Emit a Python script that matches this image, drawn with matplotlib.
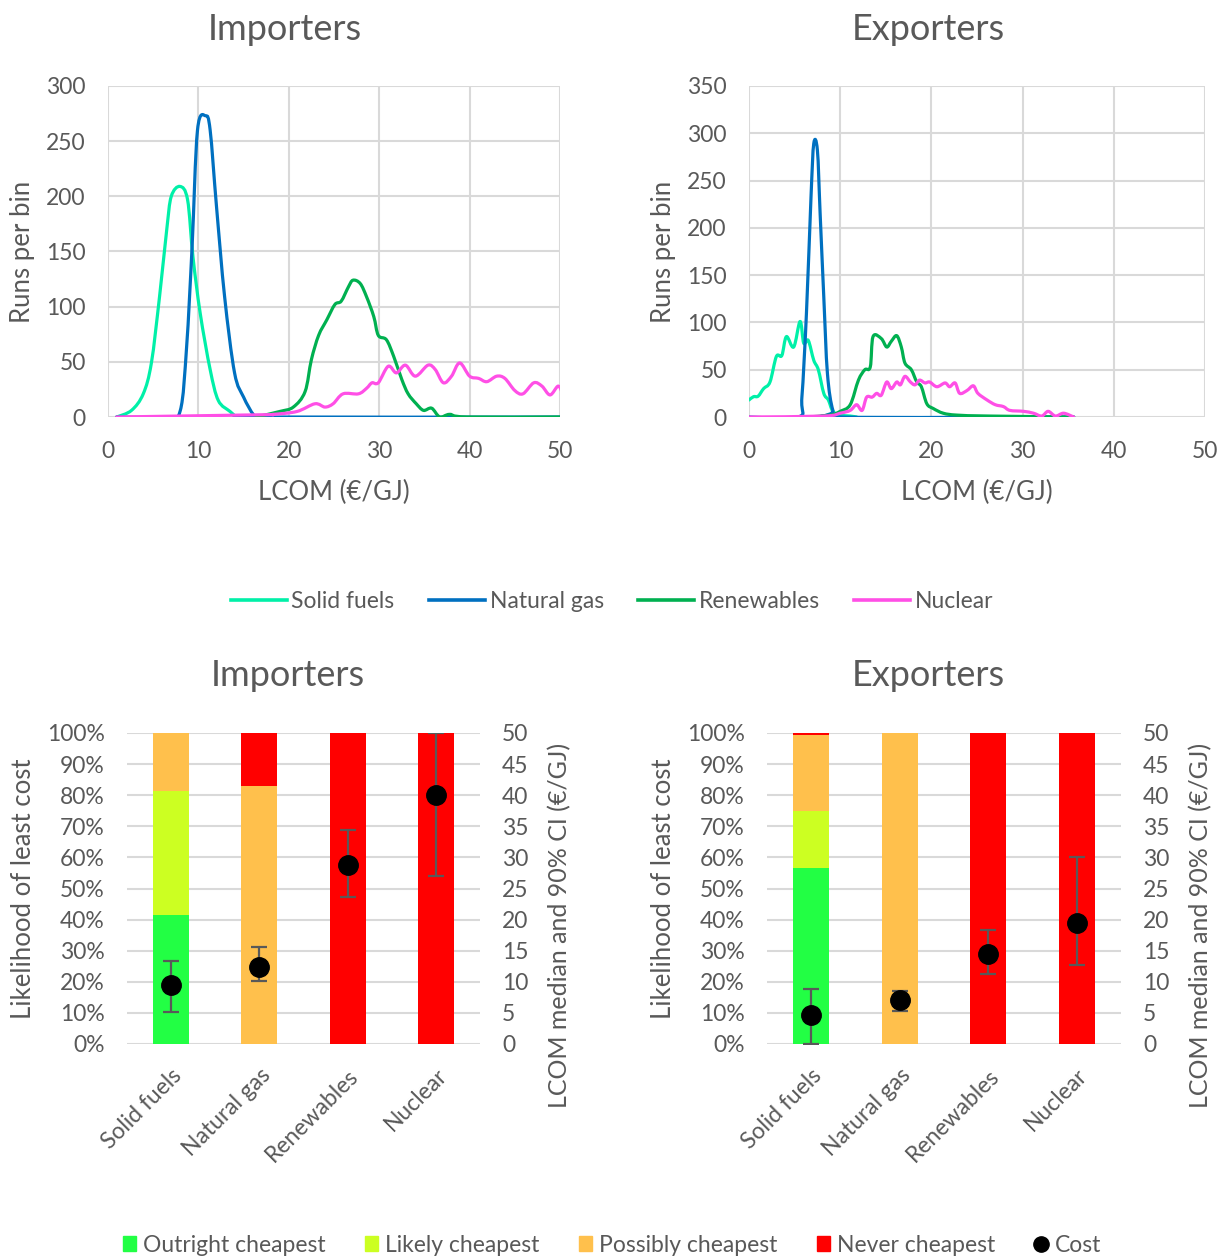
import numpy as np
import matplotlib
matplotlib.use("Agg")
import matplotlib.pyplot as plt
from matplotlib.lines import Line2D
from matplotlib.patches import Patch, PathPatch
from matplotlib.path import Path

plt.rcParams['font.family'] = ['Lato', 'DejaVu Sans']
GREY = '#595959'
GRID = '#D9D9D9'

# --- LCOM distributions (x in €/GJ, y in runs per bin) ---
imp_solid_x = [0.96, 2.6, 3.9, 4.8, 5.7, 6.5, 7.0, 7.96, 8.8, 9.4, 10.2, 11.3, 12.2, 13.5, 14.2]
imp_solid_y = [0, 6, 21, 49, 109, 170, 200, 209, 197, 145, 94, 43, 15, 5, 0]
imp_gas_x = [0.96, 6.5, 8.0, 8.7, 9.3, 9.9, 10.8, 11.3, 12.0, 12.9, 14.0, 15.0, 16.1, 16.8, 50]
imp_gas_y = [0, 0, 6, 64, 154, 260, 273, 260, 191, 109, 40, 18, 2, 0, 0]
imp_ren_x = [16.4, 19.0, 20.5, 21.8, 22.5, 23.3, 24.2, 25.1, 25.8, 26.6, 27.1, 27.9, 28.6, 29.4,
             29.9, 30.8, 31.6, 32.5, 33.2, 34.1, 34.9, 35.8, 36.7, 37.8, 39.7, 50]
imp_ren_y = [0, 5, 9, 23, 52, 74, 88, 102, 105, 118, 124, 121, 109, 91,
             74, 70, 55, 34, 21, 12, 6, 8, 0, 2.4, 0, 0]
imp_nuc_x = [0.96, 16.8, 18.3, 20.9, 22.9, 24.0, 24.9, 26.0, 27.7, 28.6, 29.2, 29.9, 31.0, 31.9,
             32.9, 34.0, 35.4, 36.2, 37.1, 38.0, 38.9, 40.0, 41.0, 41.9, 43.0, 43.9, 45.0, 45.9,
             47.1, 48.0, 48.9, 49.8, 50.3]
imp_nuc_y = [0, 2, 2.4, 5, 12, 9, 12, 21, 21, 26, 31, 31, 46, 40,
             47, 37, 47, 43, 31, 37, 49, 37, 35, 32, 37, 35, 24, 21,
             31, 28, 20, 28, 21]

exp_solid_x = [0, 0.5, 1.0, 1.6, 2.3, 3.0, 3.6, 4.1, 4.9, 5.6, 6.0, 6.5, 7.1, 7.6, 8.2, 8.7,
               9.2, 10.0, 11.1, 11.8]
exp_solid_y = [18, 21.5, 22, 30, 37, 64, 65, 85, 74, 101, 78, 81, 60, 50, 25, 18,
               6, 2, 1, 0]
exp_gas_x = [0, 5.4, 5.8, 6.3, 6.8, 7.1, 7.5, 7.8, 8.2, 8.6, 9.2, 10.0, 35.6]
exp_gas_y = [0, 0, 21, 110, 233, 289, 282, 215, 127, 46, 7, 0, 0]
exp_ren_x = [6.3, 8.9, 10.0, 11.1, 12.0, 12.7, 13.3, 13.6, 14.5, 15.1, 15.6, 16.2, 16.7, 17.1,
             17.8, 18.4, 18.9, 19.5, 20.2, 21.3, 22.8, 26.4, 35.6]
exp_ren_y = [0, 2, 6, 13, 39, 50, 53, 85, 83, 74, 80, 86, 74, 57,
             50, 37, 32, 14, 9, 4, 2, 1, 0]
exp_nuc_x = [0, 8.2, 10.0, 11.1, 11.8, 12.4, 12.9, 13.5, 14.0, 14.5, 15.1, 15.6, 16.2, 16.6,
             17.1, 17.7, 18.2, 18.7, 19.3, 19.8, 20.6, 21.5, 22.0, 22.6, 23.1, 23.9, 24.6,
             25.1, 26.1, 27.0, 27.9, 28.6, 30.1, 31.2, 32.1, 32.8, 33.6, 34.5, 35.6]
exp_nuc_y = [0, 1, 4, 7, 13, 7, 21, 21, 25, 23, 37, 30, 37, 34,
             43, 37, 34, 39, 36, 37, 32, 36, 32, 36, 25, 28, 33,
             25, 18, 13, 11, 7, 6, 4, 1, 6, 1, 4, 0]

fuels = ['Solid fuels', 'Natural gas', 'Renewables', 'Nuclear']
line_colors = ['#00F0A8', '#0070C0', '#00B050', '#FF4FE6']

# --- likelihood of least cost (%), stacked ---
imp_outright = [41.5, 0, 0, 0]
imp_likely = [40.0, 0, 0, 0]
imp_possibly = [18.5, 83, 0, 0]
imp_never = [0, 17, 100, 100]
exp_outright = [56.7, 0, 0, 0]
exp_likely = [18.3, 0, 0, 0]
exp_possibly = [24.4, 100, 0, 0]
exp_never = [0.6, 0, 100, 100]

# --- LCOM median and 90% CI (€/GJ) ---
imp_med = [9.5, 12.4, 28.7, 40.0]
imp_lo = [5.1, 10.2, 23.7, 27.0]
imp_hi = [13.4, 15.6, 34.4, 50.0]
exp_med = [4.6, 7.0, 14.5, 19.5]
exp_lo = [0.0, 5.3, 11.2, 12.7]
exp_hi = [8.9, 8.6, 18.3, 30.1]

cat_labels = ['Outright cheapest', 'Likely cheapest', 'Possibly cheapest', 'Never cheapest']
bar_colors = ['#22FF44', '#CCFF22', '#FFC04C', '#FF0000']

TICK_FS = 16.5
LABEL_FS = 18.5
TITLE_FS = 26
LEGEND_FS = 16.5

W, H = 1218, 1258
fig = plt.figure(figsize=(W / 100, H / 100), dpi=100)


def ax_rect(x0, y0, x1, y1):
    return [x0 / W, 1 - y1 / H, (x1 - x0) / W, (y1 - y0) / H]


def style_axis(ax):
    for s in ax.spines.values():
        s.set_visible(False)
    ax.tick_params(length=0, colors=GREY, labelsize=TICK_FS)
    ax.set_axisbelow(True)


def smooth_path(x, y):
    # cubic Bezier through the given points (spreadsheet-style smoothed line)
    p = np.column_stack([x, y]).astype(float)
    n = len(p)
    verts = [p[0]]
    codes = [Path.MOVETO]
    for i in range(n - 1):
        p0 = p[max(i - 1, 0)]
        p1 = p[i]
        p2 = p[i + 1]
        p3 = p[min(i + 2, n - 1)]
        verts += [p1 + (p2 - p0) / 6, p2 - (p3 - p1) / 6, p2]
        codes += [Path.CURVE4] * 3
    return Path(verts, codes)


def dist_panel(rect, series, ymax, title, title_x):
    ax = fig.add_axes(rect)
    for (x, y), c in zip(series, line_colors):
        ax.add_patch(PathPatch(smooth_path(x, y), fill=False, edgecolor=c, lw=2.3,
                               capstyle='round', joinstyle='round'))
    ax.set_xlim(0, 50)
    ax.set_ylim(0, ymax)
    ax.set_xticks(np.arange(0, 51, 10))
    ax.set_yticks(np.arange(0, ymax + 1, 50))
    ax.grid(True, color=GRID, lw=1.5)
    style_axis(ax)
    ax.tick_params(axis='x', pad=17)
    ax.tick_params(axis='y', pad=16)
    ax.set_xlabel('LCOM (€/GJ)', color=GREY, fontsize=LABEL_FS, labelpad=13)
    ax.set_ylabel('Runs per bin', color=GREY, fontsize=LABEL_FS, labelpad=8)
    fig.text(title_x / W, 1 - 29 / H, title, ha='center', va='center', fontsize=TITLE_FS,
             color=GREY)
    return ax


dist_panel(ax_rect(108, 86, 560, 417),
           [(imp_solid_x, imp_solid_y), (imp_gas_x, imp_gas_y),
            (imp_ren_x, imp_ren_y), (imp_nuc_x, imp_nuc_y)],
           300, 'Importers', 285)
dist_panel(ax_rect(749, 86, 1205, 417),
           [(exp_solid_x, exp_solid_y), (exp_gas_x, exp_gas_y),
            (exp_ren_x, exp_ren_y), (exp_nuc_x, exp_nuc_y)],
           350, 'Exporters', 928)

line_handles = [Line2D([], [], color=c, lw=2.6) for c in line_colors]
fig.legend(line_handles, fuels, loc='center', bbox_to_anchor=(612 / W, 1 - 602 / H), ncol=4,
           frameon=False, fontsize=LEGEND_FS, labelcolor=GREY, handlelength=2.45,
           handletextpad=0.2, columnspacing=1.5)


def bar_panel(rect, stacks, med, lo, hi, title, title_x):
    ax = fig.add_axes(rect)
    xs = np.arange(len(fuels))
    bottom = np.zeros(len(fuels))
    for vals, c in zip(stacks, bar_colors):
        ax.bar(xs, vals, bottom=bottom, width=0.41, color=c, zorder=2)
        bottom += np.array(vals)
    ax.set_xlim(-0.5, 3.5)
    ax.set_ylim(0, 100)
    ax.set_yticks(np.arange(0, 101, 10))
    ax.set_yticklabels([f'{v}%' for v in range(0, 101, 10)])
    ax.yaxis.grid(True, color=GRID, lw=1.5)
    style_axis(ax)
    ax.set_xticks(xs)
    ax.set_xticklabels(fuels, rotation=45, ha='right', va='top', rotation_mode='anchor')
    ax.tick_params(axis='x', pad=15)
    ax.tick_params(axis='y', pad=16)
    ax.set_ylabel('Likelihood of least cost', color=GREY, fontsize=LABEL_FS, labelpad=8)

    ax2 = ax.twinx()
    med = np.array(med)
    yerr = [med - np.array(lo), np.array(hi) - med]
    ax2.errorbar(xs, med, yerr=yerr, fmt='o', color='black', ms=14, ecolor=GREY,
                 elinewidth=1.6, capsize=6, capthick=1.6, zorder=3)
    ax2.set_ylim(0, 50)
    ax2.set_yticks(np.arange(0, 51, 5))
    style_axis(ax2)
    ax2.tick_params(axis='y', pad=16)
    ax2.set_ylabel('LCOM median and 90% CI (€/GJ)', color=GREY, fontsize=18)
    ax2.yaxis.set_label_coords(1 + 68 / (rect[2] * W), 0.38)
    fig.text(title_x / W, 1 - 676 / H, title, ha='center', va='center', fontsize=TITLE_FS,
             color=GREY)


bar_panel(ax_rect(127, 733, 480, 1044),
          [imp_outright, imp_likely, imp_possibly, imp_never],
          imp_med, imp_lo, imp_hi, 'Importers', 288)
bar_panel(ax_rect(767, 733, 1121, 1044),
          [exp_outright, exp_likely, exp_possibly, exp_never],
          exp_med, exp_lo, exp_hi, 'Exporters', 928)

bar_handles = [Patch(color=c) for c in bar_colors]
bar_handles.append(Line2D([], [], marker='o', color='black', ls='none', ms=11))
fig.legend(bar_handles, cat_labels + ['Cost'], loc='center',
           bbox_to_anchor=(612 / W, 1 - 1245 / H), ncol=5, frameon=False,
           fontsize=LEGEND_FS, labelcolor=GREY, handlelength=0.6, handleheight=0.6,
           handletextpad=0.3, columnspacing=1.7)

fig.savefig('out.png', dpi=100, facecolor='white')
